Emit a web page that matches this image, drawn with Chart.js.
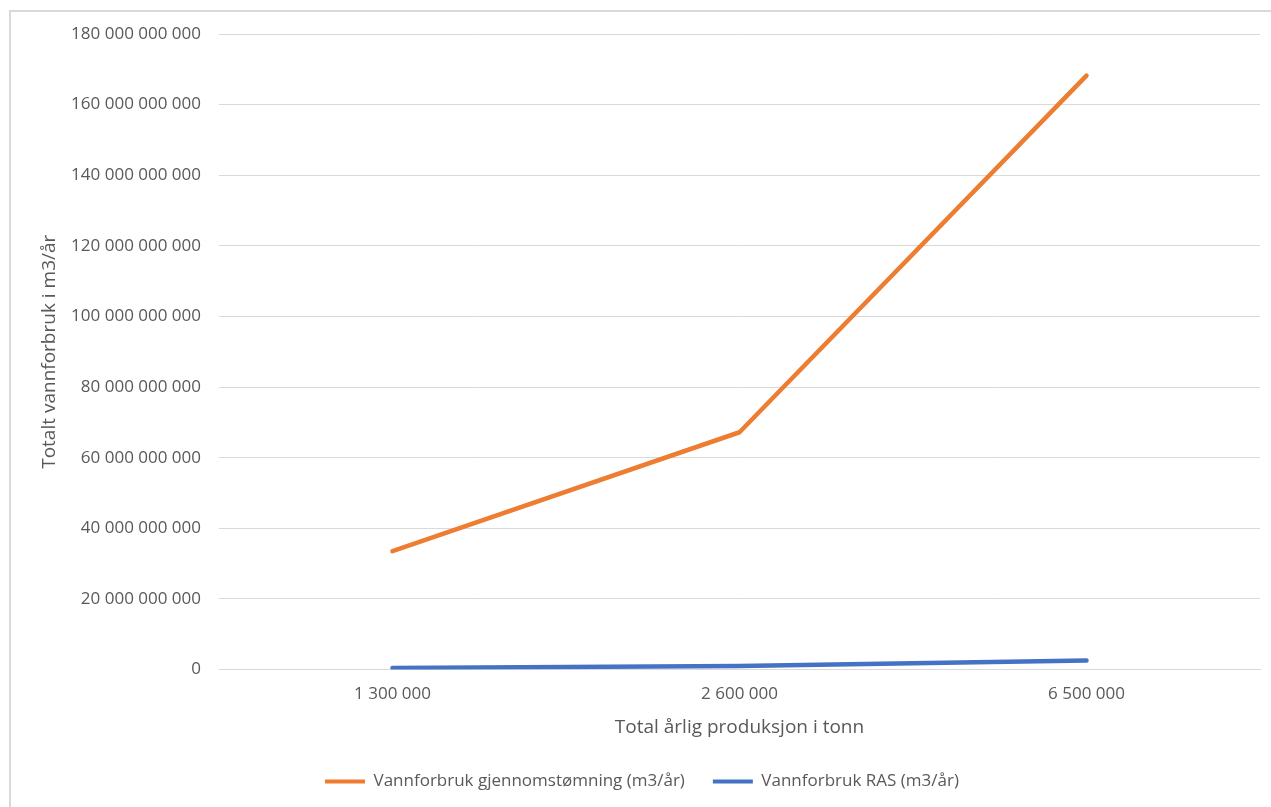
<!DOCTYPE html>
<html>
<head>
<meta charset="utf-8">
<script src="https://cdn.jsdelivr.net/npm/chart.js@4/dist/chart.umd.min.js"></script>
<style>
  html, body { margin: 0; padding: 0; background: #ffffff; overflow: hidden; }
  #wrap { position: relative; width: 1271px; height: 807px; }
  #frame {
    position: absolute; left: 9px; top: 10px; width: 1400px; height: 900px;
    border: 2px solid #d9d9d9; box-sizing: border-box; pointer-events: none;
  }
  canvas { position: absolute; left: 0; top: 0; }
</style>
</head>
<body>
<div id="wrap">
  <canvas id="chart" width="1271" height="807"></canvas>
  <div id="frame"></div>
</div>
<script>
// Total annual production (tonnes)
const categories = ['1 300 000', '2 600 000', '6 500 000'];

// Water use, m3 per year
const flowThrough = [33500000000, 67200000000, 168200000000];
const ras = [450000000, 1000000000, 2550000000];

const seriesNames = ['Vannforbruk gjennomstømning (m3/år)', 'Vannforbruk RAS (m3/år)'];
const yAxisTitle = 'Totalt vannforbruk i m3/år';
const xAxisTitle = 'Total årlig produksjon i tonn';

const yMin = 0;
const yMax = 180000000000;
const yStep = 20000000000;

const ORANGE = '#ED7D31';
const BLUE = '#4472C4';
const GRID = '#d9d9d9';
const TEXT = '#595959';
const FONT = "'Open Sans', 'Liberation Sans', sans-serif";

function spaced(v) {
  return Math.round(v).toString().replace(/\B(?=(\d{3})+(?!\d))/g, ' ');
}

const legendPad = 28;

// Places the legend row where the first entry starts
const legendPlacer = {
  id: 'legendPlacer',
  afterLayout(chart) {
    const lg = chart.legend;
    if (!lg) return;
    const w = lg.right - lg.left;
    lg.left = 325 - legendPad;
    lg.right = lg.left + w;
  }
};

new Chart(document.getElementById('chart'), {
  type: 'line',
  data: {
    labels: categories,
    datasets: [
      {
        label: seriesNames[0],
        data: flowThrough,
        borderColor: ORANGE,
        backgroundColor: ORANGE,
        borderWidth: 4.5,
        borderCapStyle: 'round',
        borderJoinStyle: 'round',
        pointRadius: 0,
        tension: 0
      },
      {
        label: seriesNames[1],
        data: ras,
        borderColor: BLUE,
        backgroundColor: BLUE,
        borderWidth: 4.5,
        borderCapStyle: 'round',
        borderJoinStyle: 'round',
        pointRadius: 0,
        tension: 0
      }
    ]
  },
  options: {
    responsive: false,
    animation: false,
    layout: { padding: { top: 34, right: 11, bottom: 7, left: 0 } },
    plugins: {
      tooltip: { enabled: false },
      legend: {
        position: 'bottom',
        align: 'start',
        labels: {
          color: TEXT,
          font: { family: FONT, size: 17 },
          boxWidth: 40,
          boxHeight: 4,
          padding: legendPad,
          generateLabels(chart) {
            return Chart.defaults.plugins.legend.labels.generateLabels(chart).map(item => {
              item.lineWidth = 0;
              return item;
            });
          }
        }
      }
    },
    scales: {
      x: {
        offset: true,
        grid: { display: false, drawTicks: false },
        border: { display: true, color: GRID, width: 1 },
        ticks: { color: TEXT, font: { family: FONT, size: 17 }, padding: 14, maxRotation: 0 },
        title: {
          display: true,
          text: xAxisTitle,
          color: TEXT,
          font: { family: FONT, size: 19 },
          padding: { top: 4, bottom: 6 }
        },
        afterFit(scale) { scale.height = 75.5; }
      },
      y: {
        min: yMin,
        max: yMax,
        grid: { color: GRID, lineWidth: 1, drawTicks: false },
        border: { display: false },
        ticks: {
          stepSize: yStep,
          color: TEXT,
          font: { family: FONT, size: 17 },
          padding: 18,
          callback: v => spaced(v)
        },
        title: {
          display: true,
          text: yAxisTitle,
          color: TEXT,
          font: { family: FONT, size: 19 },
          padding: { top: 38, bottom: 0 }
        },
        afterFit(scale) { scale.width = 219; }
      }
    }
  },
  plugins: [legendPlacer]
});
</script>
</body>
</html>
